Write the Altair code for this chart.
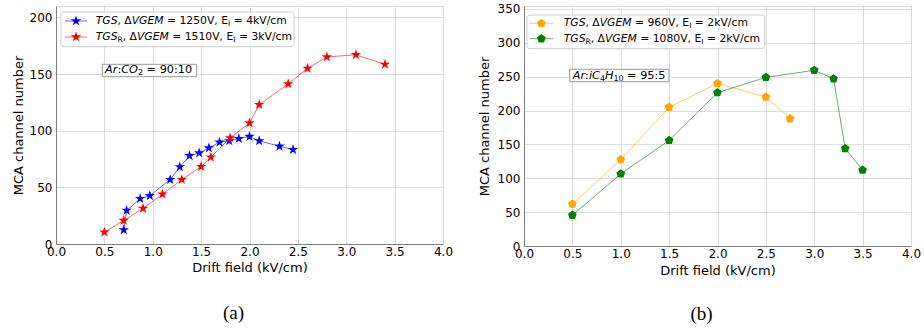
import math
import altair as alt
import pandas as pd

# ---------------- data ----------------
# (a) Ar:CO2 = 90:10
tgs_a_x = [0.70, 0.73, 0.87, 0.97, 1.18, 1.28, 1.38, 1.48, 1.58, 1.69, 1.79, 1.89, 2.00, 2.10, 2.31, 2.45]
tgs_a_y = [12.4, 29.6, 40.0, 42.6, 56.8, 68.0, 77.9, 80.3, 84.7, 89.8, 91.0, 93.0, 94.8, 91.0, 86.2, 83.3]
tgsr_a_x = [0.5, 0.7, 0.9, 1.1, 1.3, 1.5, 1.6, 1.8, 2.0, 2.1, 2.4, 2.6, 2.8, 3.1, 3.4]
tgsr_a_y = [10.4, 20.7, 31.4, 44.0, 56.8, 68.3, 76.6, 93.6, 106.7, 123.0, 141.3, 155.0, 165.0, 167.0, 158.5]

# (b) Ar:iC4H10 = 95:5
tgs_b_x = [0.5, 1.0, 1.5, 2.0, 2.5, 2.75]
tgs_b_y = [62.0, 127.5, 205.0, 240.0, 220.0, 188.0]
tgsr_b_x = [0.5, 1.0, 1.5, 2.0, 2.5, 3.0, 3.2, 3.32, 3.5]
tgsr_b_y = [45.5, 106.5, 156.0, 226.5, 249.0, 259.5, 247.0, 144.0, 112.0]

x_ticks = [0.0, 0.5, 1.0, 1.5, 2.0, 2.5, 3.0, 3.5, 4.0]
y_ticks_a = [0, 50, 100, 150, 200]
y_ticks_b = [0, 50, 100, 150, 200, 250, 300, 350]

FONT = "DejaVu Sans"
W_PANEL = 387


# ---------------- marker shapes ----------------
def polygon_path(n_points, inner=None):
    pts = []
    step = 360.0 / n_points
    if inner is None:
        for k in range(n_points):
            a = math.radians(-90 + k * step)
            pts.append((math.cos(a), math.sin(a)))
    else:
        for k in range(2 * n_points):
            r = 1.0 if k % 2 == 0 else inner
            a = math.radians(-90 + k * step / 2)
            pts.append((r * math.cos(a), r * math.sin(a)))
    return "M" + "L".join(f"{x:.4f},{y:.4f}" for x, y in pts) + "Z"


STAR = polygon_path(5, inner=0.382)
PENTAGON = polygon_path(5)

# ---------------- rich-text helpers (DejaVu Sans advance widths /2048) ----------------
ADV = {
    " ": 651, ",": 651, ":": 690, "=": 1716, "/": 690,
    "0": 1303, "1": 1303, "2": 1303, "3": 1303, "4": 1303,
    "5": 1303, "6": 1303, "7": 1303, "8": 1303, "9": 1303,
    "A": 1401, "C": 1430, "E": 1294, "G": 1577, "H": 1540, "I": 604,
    "M": 1767, "O": 1612, "R": 1423, "S": 1300, "T": 1251, "V": 1401,
    "c": 1126, "i": 569, "k": 1186, "m": 1995, "r": 842, "Δ": 1401,
}


def text_width(s, fs):
    return sum(ADV.get(c, 1300) for c in s) / 2048.0 * fs


def runs(parts, x0, y0, fs):
    rows = []
    x = x0
    for txt, style in parts:
        size = fs * 0.7 if style == "sub" else fs
        y = y0 + 3 if style == "sub" else y0
        lead = len(txt) - len(txt.lstrip(" "))
        shown = txt.strip(" ")
        if shown:
            rows.append(dict(px=x + text_width(txt[:lead], size), py=y, text=shown,
                             size=size, italic=(style == "i")))
        x += text_width(txt, size)
    return rows


def rich_text(rows):
    df = pd.DataFrame(rows)
    layers = []
    for italic in (False, True):
        sub = df[df["italic"] == italic]
        if len(sub) == 0:
            continue
        layers.append(
            alt.Chart(sub).mark_text(align="left", baseline="middle", font=FONT,
                                     fontStyle="italic" if italic else "normal", color="black")
            .encode(x=alt.X("px:Q", scale=None), y=alt.Y("py:Q", scale=None),
                    text="text:N", size=alt.Size("size:Q", scale=None))
        )
    return layers


def box(x1, x2, y1, y2, stroke, radius, opacity):
    return alt.Chart(pd.DataFrame({"k": [0]})).mark_rect(
        fill="white", fillOpacity=opacity, stroke=stroke, strokeWidth=1, cornerRadius=radius
    ).encode(x=alt.value(x1), x2=alt.value(x2), y=alt.value(y1), y2=alt.value(y2))


def legend(items, box_xy, line_x, text_x, fs):
    layers = [box(*box_xy, stroke="#cccccc", radius=3, opacity=0.8)]
    lines = pd.DataFrame([dict(px=line_x[0], px2=line_x[1], py=it["y"], color=it["color"]) for it in items])
    layers.append(
        alt.Chart(lines).mark_rule(strokeWidth=1, opacity=0.6).encode(
            x=alt.X("px:Q", scale=None), x2="px2:Q", y=alt.Y("py:Q", scale=None),
            color=alt.Color("color:N", scale=None))
    )
    marks = pd.DataFrame([dict(px=it["mx"], py=it["y"], color=it["color"], shape=it["shape"],
                               size=it["size"]) for it in items])
    layers.append(
        alt.Chart(marks).mark_point(filled=True, opacity=1).encode(
            x=alt.X("px:Q", scale=None), y=alt.Y("py:Q", scale=None),
            color=alt.Color("color:N", scale=None), shape=alt.Shape("shape:N", scale=None),
            size=alt.Size("size:Q", scale=None))
    )
    rows = []
    for it in items:
        rows += runs(it["parts"], text_x, it["y"], fs)
    layers += rich_text(rows)
    return layers


def panel(series, y_dom, y_ticks, height, legend_layers, annot_layers, ytitle_x, xtitle_y, caption, cap_y):
    x_enc = alt.X("x:Q", scale=alt.Scale(domain=[0, 4], nice=False, zero=False),
                  axis=alt.Axis(values=x_ticks, format=".1f", title="Drift field (kV/cm)",
                                grid=True, gridColor="#dcdcdc", gridWidth=1,
                                domainColor="#808080", tickSize=0, labelPadding=2,
                                labelFont=FONT, labelFontSize=12, labelColor="black",
                                labelFlush=False, labelOverlap=False,
                                titleFont=FONT, titleFontSize=13, titleFontWeight="normal",
                                titleColor="black", titleY=xtitle_y, titleX=W_PANEL / 2,
                                titleBaseline="middle", titleAlign="center"))
    y_enc = alt.Y("y:Q", scale=alt.Scale(domain=y_dom, nice=False, zero=False),
                  axis=alt.Axis(values=y_ticks, title="MCA channel number",
                                grid=True, gridColor="#dcdcdc", gridWidth=1,
                                domainColor="#808080", tickSize=0, labelPadding=4,
                                labelFont=FONT, labelFontSize=12, labelColor="black",
                                labelFlush=False, labelOverlap=False,
                                titleFont=FONT, titleFontSize=13, titleFontWeight="normal",
                                titleColor="black", titleX=ytitle_x, titleY=height / 2,
                                titleAngle=-90, titleBaseline="middle", titleAlign="center"))
    layers = []
    for xs, ys, color, shape, size in series:
        df = pd.DataFrame({"x": xs, "y": ys})
        layers.append(alt.Chart(df).mark_line(color=color, strokeWidth=1, opacity=0.6)
                      .encode(x=x_enc, y=y_enc))
        layers.append(alt.Chart(df).mark_point(filled=True, color=color, shape=shape, size=size, opacity=1)
                      .encode(x=x_enc, y=y_enc))
    cap = alt.Chart(pd.DataFrame({"t": [caption]})).mark_text(
        font="Liberation Serif", fontSize=19, color="black", align="center", baseline="middle"
    ).encode(text="t:N", x=alt.value(W_PANEL / 2 - 16), y=alt.value(cap_y))
    return alt.layer(*layers, *annot_layers, *legend_layers, cap).properties(width=W_PANEL, height=height)


# ---------------- panel (a) ----------------
FS_LEG = 10.8
FS_ANN = 11.3
leg_a = legend(
    [
        dict(y=15, mx=20, color="#0000ff", shape=STAR, size=121,
             parts=[("TGS", "i"), (", ", "n"), ("Δ", "n"), ("VGEM", "i"), (" = 1250V, E", "n"),
                    ("I", "sub"), (" = 4kV/cm", "n")]),
        dict(y=31, mx=20, color="#ff0000", shape=STAR, size=121,
             parts=[("TGS", "i"), ("R", "sub"), (", ", "n"), ("Δ", "n"), ("VGEM", "i"),
                    (" = 1510V, E", "n"), ("I", "sub"), (" = 3kV/cm", "n")]),
    ],
    box_xy=(5, 238, 6, 40.7), line_x=(9, 31), text_x=39.7, fs=FS_LEG,
)
ann_a = [box(46.3, 140.7, 58.3, 70.7, stroke="#999999", radius=0, opacity=1)] + rich_text(
    runs([("Ar", "i"), (":", "n"), ("CO", "i"), ("2", "sub"), (" = 90:10", "n")], 49, 64.3, FS_ANN)
)
chart_a = panel(
    [(tgs_a_x, tgs_a_y, "#0000ff", STAR, 121), (tgsr_a_x, tgsr_a_y, "#ff0000", STAR, 121)],
    [0, 210], y_ticks_a, 238, leg_a, ann_a, ytitle_x=-38, xtitle_y=23.7, caption="(a)", cap_y=306.7,
)

# ---------------- panel (b) ----------------
leg_b = legend(
    [
        dict(y=17.3, mx=17.4, color="#ffa500", shape=PENTAGON, size=84,
             parts=[("TGS", "i"), (", ", "n"), ("Δ", "n"), ("VGEM", "i"), (" = 960V, E", "n"),
                    ("I", "sub"), (" = 2kV/cm", "n")]),
        dict(y=32.7, mx=17.4, color="#008000", shape=PENTAGON, size=84,
             parts=[("TGS", "i"), ("R", "sub"), (", ", "n"), ("Δ", "n"), ("VGEM", "i"),
                    (" = 1080V, E", "n"), ("I", "sub"), (" = 2kV/cm", "n")]),
    ],
    box_xy=(3, 240.7, 9, 42.7), line_x=(5.7, 29), text_x=39.7, fs=FS_LEG,
)
ann_b = [box(45.7, 145.0, 63.3, 75.7, stroke="#999999", radius=0, opacity=1)] + rich_text(
    runs([("Ar", "i"), (":", "n"), ("iC", "i"), ("4", "sub"), ("H", "i"), ("10", "sub"),
          (" = 95:5", "n")], 48.7, 69.5, FS_ANN)
)
chart_b = panel(
    [(tgs_b_x, tgs_b_y, "#ffa500", PENTAGON, 84), (tgsr_b_x, tgsr_b_y, "#008000", PENTAGON, 84)],
    [0, 354.43], y_ticks_b, 240, leg_b, ann_b, ytitle_x=-39.3, xtitle_y=24.3, caption="(b)", cap_y=308.3,
)

chart = (
    alt.hconcat(chart_a, chart_b, spacing=81, bounds="flush")
    .properties(padding={"left": 11, "top": 2, "right": 0, "bottom": 0})
    .configure_view(stroke="#808080", strokeWidth=1)
    .configure(background="white")
)

chart.save("out.html", embed_options={"renderer": "svg", "actions": False})
